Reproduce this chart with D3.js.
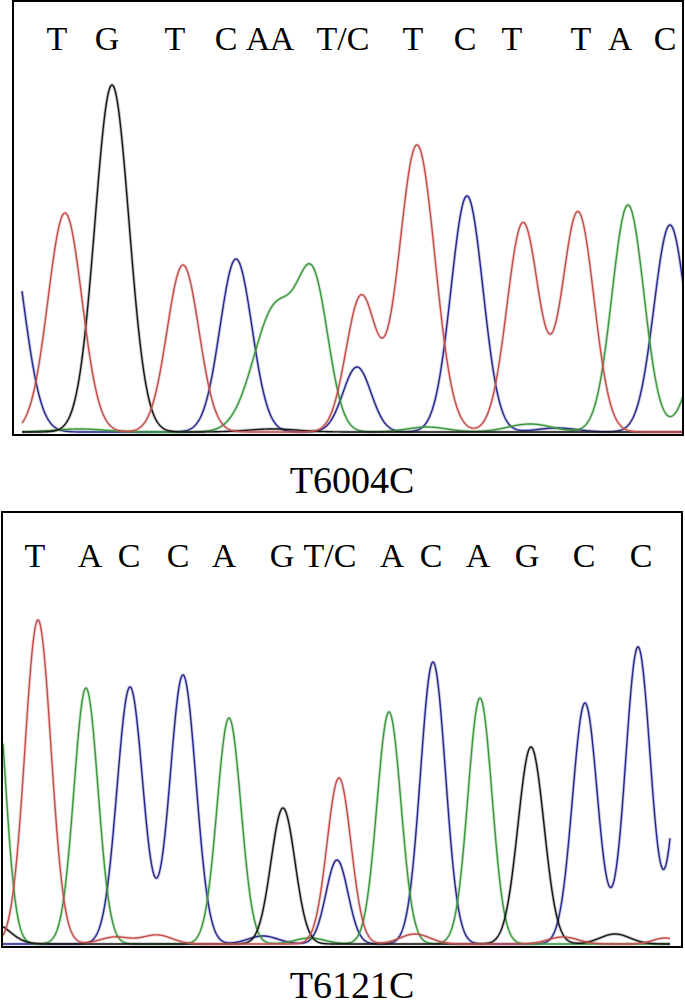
<!DOCTYPE html>
<html>
<head>
<meta charset="utf-8">
<script src="https://cdn.jsdelivr.net/npm/d3@7"></script>
<style>
  body { margin: 0; background: #fff; }
  svg { display: block; font-family: "Liberation Serif", "Times New Roman", serif; }
</style>
</head>
<body>
<div id="chart"></div>
<script>
// base calls printed above each trace, and the scan position they sit at
const topCalls = ["T", "G", "T", "C", "A", "A", "T/C", "T", "C", "T", "T", "A", "C"];
const topCallPos = [44, 94, 162, 213, 245, 269, 330, 400, 452, 499, 568, 607, 652];
const bottomCalls = ["T", "A", "C", "C", "A", "G", "T/C", "A", "C", "A", "G", "C", "C"];
const bottomCallPos = [33, 88, 127, 176, 222, 280, 328, 390, 429, 476, 525, 582, 639];

// peaks: [scan position, signal, spread]
const topT = [[52, 219, 17], [170, 167, 16], [348, 135, 15], [404, 287, 18], [510, 209, 16], [565, 220, 16]];
const topC = [[-8, 220, 18], [223, 173, 16], [344, 65, 14], [454, 236, 16], [657, 207, 16], [544, 4, 20]];
const topA = [[263, 125, 22], [301, 135, 15], [615, 227, 16], [692, 90, 16], [67, 3, 25], [414, 5, 20], [517, 8, 22]];
const topG = [[99, 347, 17], [260, 3, 25]];

const bottomT = [[36, 324, 13], [337, 166, 12], [113, 7, 15], [155, 9, 15], [413, 10, 15], [561, 7, 15], [663, 6, 12]];
const bottomC = [[128, 257, 13], [181, 269, 13], [335, 84, 11], [431, 282, 12.5], [583, 241, 12.5], [636, 297, 12.5], [687, 300, 12.5], [261, 8, 15]];
const bottomA = [[-8, 280, 11], [84, 256, 12], [227, 226, 12], [387, 232, 12], [478, 246, 12], [308, 6, 15]];
const bottomG = [[-7, 20, 15], [281, 136, 12], [529, 197, 13], [613, 10, 15]];

const sampleNames = ["T6004C", "T6121C"];

const colors = { T: "#c24e4a", C: "#27278c", A: "#3b963d", G: "#161616" };

const W = 685, H = 1002;

const svg = d3.select("#chart")
  .append("svg")
  .attr("width", W)
  .attr("height", H)
  .attr("viewBox", [0, 0, W, H]);

const panels = [
  {
    name: sampleNames[0], calls: topCalls, callPos: topCallPos,
    traces: { C: topC, A: topA, G: topG, T: topT },
    box: { x0: 13, y0: 1, x1: 683, y1: 435 },
    base: 432, domain: [0, 670], span: [9, 670],
    callY: 50, labelY: 493,
  },
  {
    name: sampleNames[1], calls: bottomCalls, callPos: bottomCallPos,
    traces: { C: bottomC, A: bottomA, G: bottomG, T: bottomT },
    box: { x0: 2, y0: 512, x1: 682, y1: 947 },
    base: 944, domain: [0, 680], span: [1, 668],
    callY: 567, labelY: 998,
  },
];

function signal(peaks, s) {
  return d3.sum(peaks, ([c, h, w]) => h * Math.exp(-((s - c) ** 2) / (2 * w * w)));
}

panels.forEach((p, i) => {
  const x = d3.scaleLinear().domain(p.domain).range([p.box.x0, p.box.x1]);
  const y = d3.scaleLinear().domain([0, 400]).range([p.base, p.base - 400]);

  const g = svg.append("g");

  g.append("clipPath")
    .attr("id", `clip${i}`)
    .append("rect")
    .attr("x", p.box.x0 + 1)
    .attr("y", p.box.y0 + 1)
    .attr("width", p.box.x1 - p.box.x0 - 2)
    .attr("height", p.box.y1 - p.box.y0 - 2);

  const scans = d3.range(p.span[0], p.span[1] + 0.5, 0.5);
  const line = d3.line()
    .x((d) => x(d[0]))
    .y((d) => y(d[1]));

  const traces = g.append("g").attr("clip-path", `url(#clip${i})`);

  Object.entries(p.traces).forEach(([base, peaks]) => {
    const pts = scans.map((s) => [s, signal(peaks, s)]);
    traces.append("path")
      .attr("d", line(pts))
      .attr("fill", "none")
      .attr("stroke", colors[base])
      .attr("stroke-opacity", 0.25)
      .attr("stroke-width", 3.2);
    traces.append("path")
      .attr("d", line(pts))
      .attr("fill", "none")
      .attr("stroke", colors[base])
      .attr("stroke-width", 1.4);
  });

  g.append("rect")
    .attr("x", p.box.x0)
    .attr("y", p.box.y0)
    .attr("width", p.box.x1 - p.box.x0)
    .attr("height", p.box.y1 - p.box.y0)
    .attr("fill", "none")
    .attr("stroke", "#000")
    .attr("stroke-width", 2);

  g.append("g")
    .selectAll("text")
    .data(p.calls)
    .join("text")
    .attr("x", (d, j) => x(p.callPos[j]))
    .attr("y", p.callY)
    .attr("text-anchor", "middle")
    .attr("font-size", 34)
    .attr("fill", "#000")
    .text((d) => d);

  svg.append("text")
    .attr("x", 352)
    .attr("y", p.labelY)
    .attr("text-anchor", "middle")
    .attr("font-size", 38)
    .attr("fill", "#000")
    .text(p.name);
});
</script>
</body>
</html>
